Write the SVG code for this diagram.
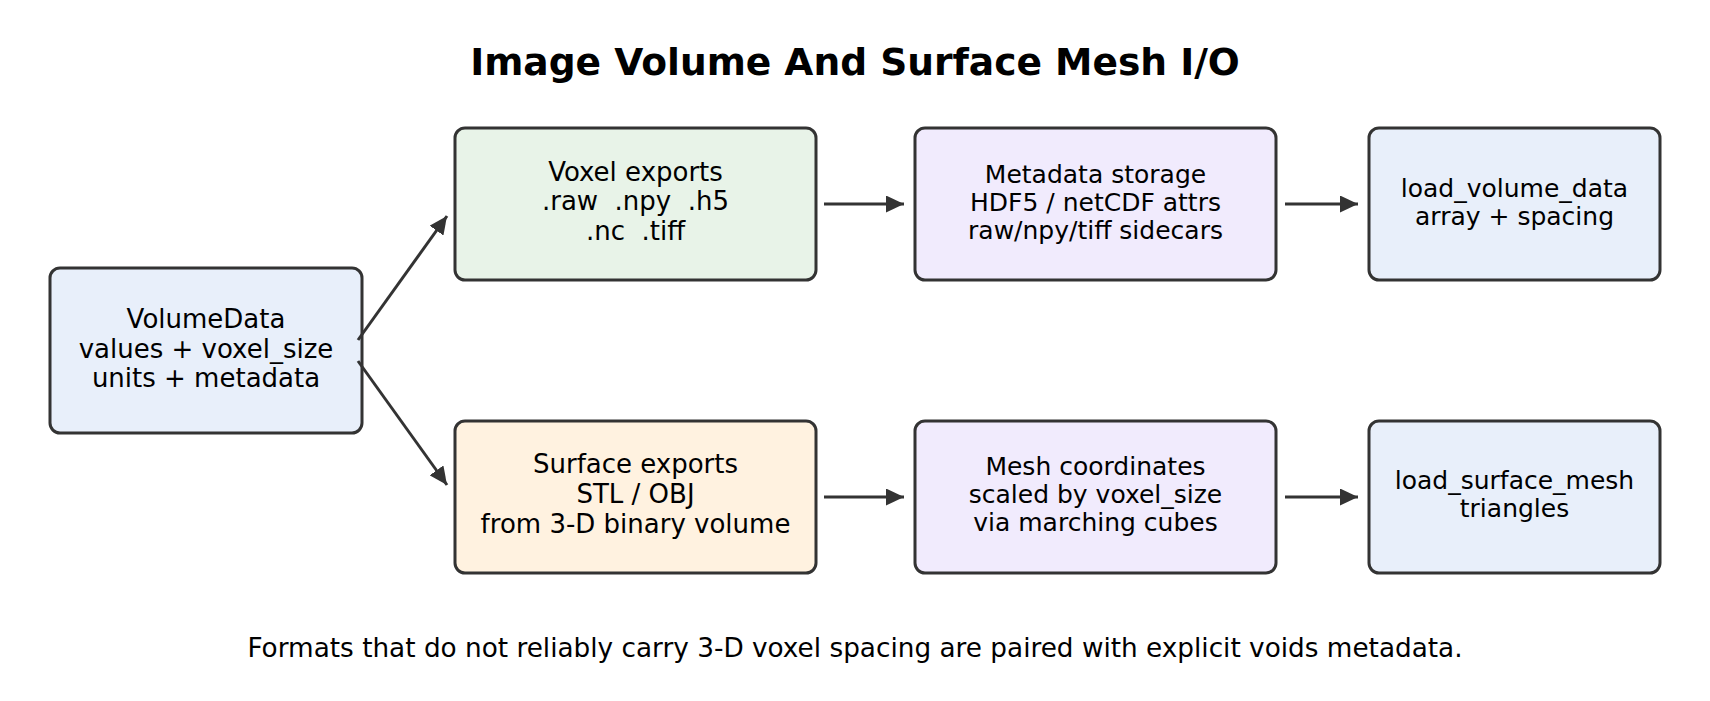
<svg xmlns="http://www.w3.org/2000/svg" width="1710" height="701" viewBox="0 0 1710 701">
<style>
.box{stroke:#333;stroke-width:3}
.t{font-family:"DejaVu Sans",sans-serif;fill:#000;text-anchor:middle}
.c1{font-size:26px}
.c2{font-size:25px}
.edge{stroke:#333;stroke-width:3;fill:none}
</style>
<defs>
<marker id="ah" viewBox="0 0 18 17" refX="18" refY="8.5" markerWidth="18" markerHeight="17" markerUnits="userSpaceOnUse" orient="auto">
<path d="M0,0 L18,8.5 L0,17 Z" fill="#333"/>
</marker>
</defs>
<rect width="1710" height="701" fill="#fff"/>
<text class="t" x="855" y="75" style="font-size:37.6px;font-weight:bold">Image Volume And Surface Mesh I/O</text>
<g id="volumedata">
<rect class="box" x="50" y="268" width="312" height="165" rx="10" fill="#E8EFFA"/>
<text class="t c1" x="206" y="328">VolumeData</text>
<text class="t c1" x="206" y="357.5">values + voxel_size</text>
<text class="t c1" x="206" y="387">units + metadata</text>
</g>
<g id="voxel_exports">
<rect class="box" x="455" y="128" width="361" height="152" rx="10" fill="#E8F3E8"/>
<text class="t c1" x="635.5" y="181">Voxel exports</text>
<text class="t c1" x="635.5" y="210" xml:space="preserve">.raw  .npy  .h5</text>
<text class="t c1" x="635.5" y="240" xml:space="preserve">.nc  .tiff</text>
</g>
<g id="surface_exports">
<rect class="box" x="455" y="421" width="361" height="152" rx="10" fill="#FFF2E0"/>
<text class="t c1" x="635.5" y="473">Surface exports</text>
<text class="t c1" x="635.5" y="503">STL / OBJ</text>
<text class="t c1" x="635.5" y="533">from 3-D binary volume</text>
</g>
<g id="metadata_storage">
<rect class="box" x="915" y="128" width="361" height="152" rx="10" fill="#F1EBFD"/>
<text class="t c2" x="1095.5" y="183">Metadata storage</text>
<text class="t c2" x="1095.5" y="211">HDF5 / netCDF attrs</text>
<text class="t c2" x="1095.5" y="239">raw/npy/tiff sidecars</text>
</g>
<g id="mesh_coordinates">
<rect class="box" x="915" y="421" width="361" height="152" rx="10" fill="#F1EBFD"/>
<text class="t c2" x="1095.5" y="475">Mesh coordinates</text>
<text class="t c2" x="1095.5" y="503">scaled by voxel_size</text>
<text class="t c2" x="1095.5" y="531">via marching cubes</text>
</g>
<g id="load_volume_data">
<rect class="box" x="1369" y="128" width="291" height="152" rx="10" fill="#E8EFFA"/>
<text class="t c2" x="1514.5" y="197">load_volume_data</text>
<text class="t c2" x="1514.5" y="225">array + spacing</text>
</g>
<g id="load_surface_mesh">
<rect class="box" x="1369" y="421" width="291" height="152" rx="10" fill="#E8EFFA"/>
<text class="t c2" x="1514.5" y="489">load_surface_mesh</text>
<text class="t c2" x="1514.5" y="517">triangles</text>
</g>
<g id="connectors">
<line class="edge" x1="358" y1="340" x2="447" y2="216" marker-end="url(#ah)"/>
<line class="edge" x1="358" y1="361" x2="447" y2="485" marker-end="url(#ah)"/>
<line class="edge" x1="824" y1="204" x2="904" y2="204" marker-end="url(#ah)"/>
<line class="edge" x1="1285" y1="204" x2="1358" y2="204" marker-end="url(#ah)"/>
<line class="edge" x1="824" y1="497" x2="904" y2="497" marker-end="url(#ah)"/>
<line class="edge" x1="1285" y1="497" x2="1358" y2="497" marker-end="url(#ah)"/>
</g>
<text class="t" x="855" y="657" style="font-size:26.3px">Formats that do not reliably carry 3-D voxel spacing are paired with explicit voids metadata.</text>
</svg>
